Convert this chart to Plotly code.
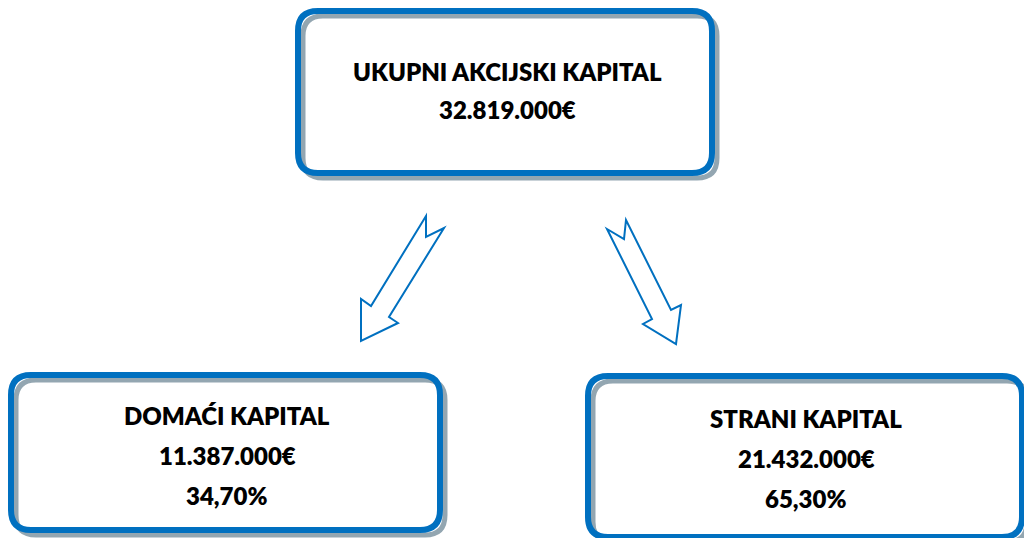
import plotly.graph_objects as go

# ---- data ----
box_titles = ["UKUPNI AKCIJSKI KAPITAL", "DOMAĆI KAPITAL", "STRANI KAPITAL"]
box_amounts = ["32.819.000€", "11.387.000€", "21.432.000€"]
box_shares = ["", "34,70%", "65,30%"]

# ---- layout geometry (pixels) ----
boxes = [  # x0, y0, x1, y1
    (298, 11, 712, 173),
    (11, 375, 440, 530),
    (588, 376, 1022, 537),
]
text_rows = [  # y of each text line per box
    [71, 109],
    [415, 455, 495],
    [418, 458, 498],
]
text_cx = [507, 227, 806]

left_arrow = [(426, 216), (426, 237), (444, 228), (389, 317), (398, 323),
              (361, 341), (361, 299), (371, 306)]
right_arrow = [(607, 229), (624, 239), (626, 220), (671, 310), (681, 305),
               (676, 344), (643, 324), (652, 319)]

BLUE = "#0070C0"
GRAY = "#93A6B1"


def rrect(x0, y0, x1, y1, r=20):
    return (f"M {x0+r},{y0} L {x1-r},{y0} Q {x1},{y0} {x1},{y0+r} "
            f"L {x1},{y1-r} Q {x1},{y1} {x1-r},{y1} L {x0+r},{y1} "
            f"Q {x0},{y1} {x0},{y1-r} L {x0},{y0+r} Q {x0},{y0} {x0+r},{y0} Z")


def poly(pts):
    return "M " + " L ".join(f"{x},{y}" for x, y in pts) + " Z"


shapes = []
for (x0, y0, x1, y1) in boxes:
    shapes.append(dict(type="path", path=rrect(x0, y0, x1, y1), fillcolor="white",
                       line=dict(width=0), layer="above"))
    shapes.append(dict(type="path", path=rrect(x0 + 5, y0 + 5, x1 + 5, y1 + 5),
                       fillcolor="rgba(0,0,0,0)", line=dict(color=GRAY, width=5), layer="above"))
    shapes.append(dict(type="path", path=rrect(x0, y0, x1, y1),
                       fillcolor="rgba(0,0,0,0)", line=dict(color=BLUE, width=6), layer="above"))
for arr in (left_arrow, right_arrow):
    shapes.append(dict(type="path", path=poly(arr), fillcolor="white",
                       line=dict(color=BLUE, width=2), layer="above"))

annotations = []
for i in range(3):
    lines = [box_titles[i], box_amounts[i]] + ([box_shares[i]] if box_shares[i] else [])
    for txt, y in zip(lines, text_rows[i]):
        annotations.append(dict(x=text_cx[i], y=y, text=txt, showarrow=False,
                                xanchor="center", yanchor="middle",
                                font=dict(family="Lato", size=24, weight=800, color="black")))

fig = go.Figure()
fig.add_trace(go.Scatter(x=[0, 1024], y=[0, 538], mode="markers",
                         marker=dict(opacity=0), hoverinfo="skip", showlegend=False))
fig.update_layout(
    width=1024, height=538, margin=dict(l=0, r=0, t=0, b=0),
    paper_bgcolor="white", plot_bgcolor="white",
    xaxis=dict(range=[0, 1024], visible=False, fixedrange=True),
    yaxis=dict(range=[538, 0], visible=False, fixedrange=True),
    shapes=shapes, annotations=annotations, showlegend=False,
)
fig.write_html("out.html", config={"displayModeBar": False},
               post_script="document.body.style.margin='0';document.body.style.overflow='hidden';")
